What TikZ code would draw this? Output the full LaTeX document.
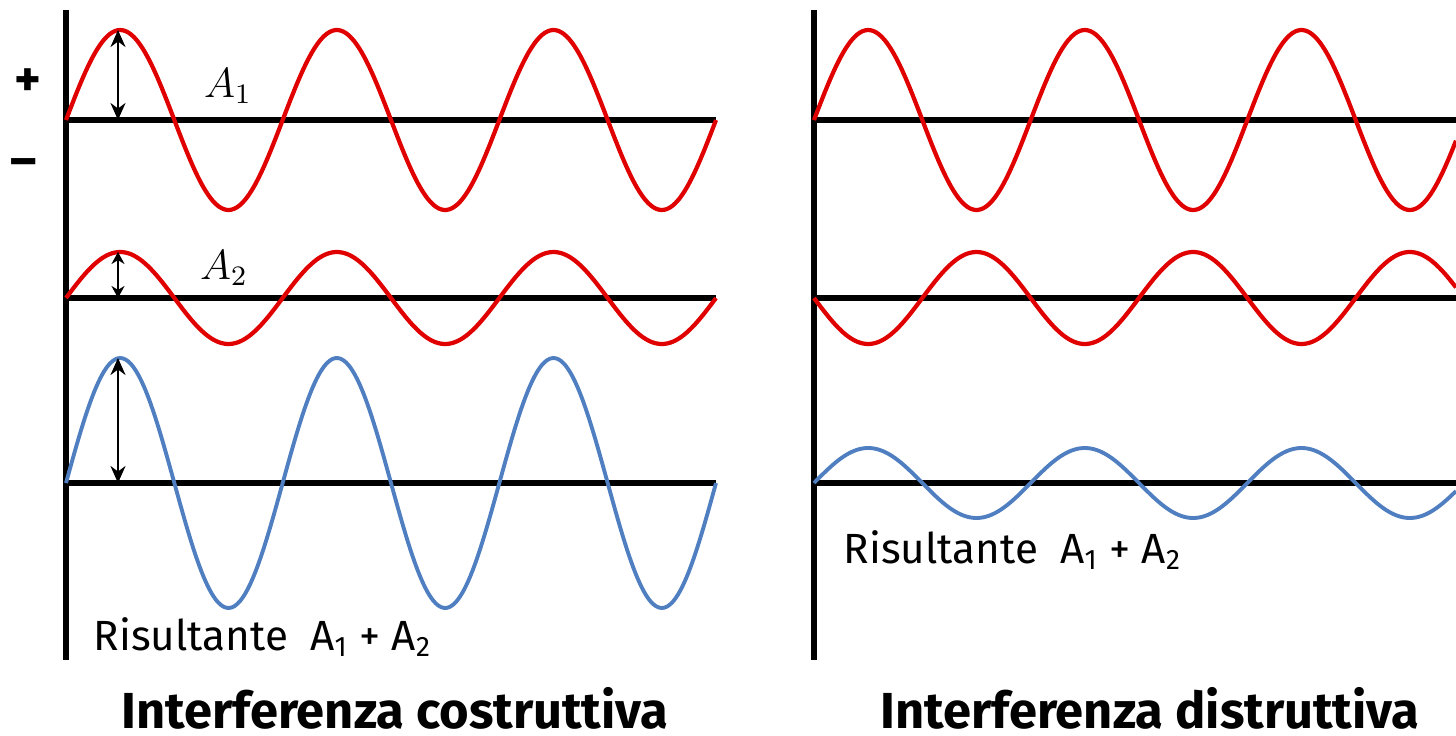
\documentclass[tikz,border=0pt]{standalone}
\usepackage{fontspec}
\setsansfont{Fira Sans}
\usepackage{tikz}
\usetikzlibrary{
  arrows.meta,
  positioning
}
\definecolor{wvRed}{HTML}{E00000}
\definecolor{wvBlue}{HTML}{4F7FC0}
\tikzset{
  axisline/.style={line width=1.5pt, black},
  wavered/.style={line width=1.2pt, wvRed, line join=round},
  waveblue/.style={line width=1.1pt, wvBlue, line join=round},
  amparrow/.style={{Stealth[length=1.7mm,width=1.5mm]}-{Stealth[length=1.7mm,width=1.5mm]}, line width=0.7pt},
  smallarrow/.style={{Stealth[length=1.2mm,width=1.3mm]}-{Stealth[length=1.2mm,width=1.3mm]}, line width=0.7pt},
  amplabel/.style={font=\large, inner sep=0pt},
  reslabel/.style={font=\sffamily\large, anchor=base west, inner sep=0pt},
  paneltitle/.style={font=\sffamily\bfseries\Large, anchor=base, inner sep=0pt},
  signlabel/.style={font=\sffamily\bfseries\Large, inner sep=0pt}
}

\begin{document}
\begin{tikzpicture}[x=0.01cm, y=-0.01cm]
  \useasboundingbox (0,0) rectangle (1456,736);

  % costruttiva
  \draw[axisline] (66,10) -- (66,660);
  \draw[axisline] (66,120) -- (716,120);
  \draw[axisline] (66,298) -- (716,298);
  \draw[axisline] (66,483) -- (716,483);
  \draw[wavered] plot[domain=0:650, samples=240, smooth] ({66+\x},{120-90*sin(\x/216.67*360)});
  \draw[wavered] plot[domain=0:650, samples=240, smooth] ({66+\x},{298-46*sin(\x/216.67*360)});
  \draw[waveblue] plot[domain=0:650, samples=240, smooth] ({66+\x},{483-125*sin(\x/216.67*360)});

  \coordinate (a1top) at (118,30);
  \coordinate (a1bot) at (118,120);
  \coordinate (a2top) at (118,252);
  \coordinate (a2bot) at (118,298);
  \coordinate (rstop) at (118,358);
  \coordinate (rsbot) at (118,483);
  \draw[amparrow] (a1top) -- (a1bot);
  \draw[smallarrow] (a2top) -- (a2bot);
  \draw[amparrow] (rstop) -- (rsbot);

  \node[signlabel] (plus) at (28,83) {+};
  \node[signlabel] (minus) at (24,168) {\textendash};
  \node[amplabel] (lblA1) at (228,86) {$A_1$};
  \node[amplabel] (lblA2) at (224,268) {$A_2$};
  \node[reslabel] (resC) at (93,650) {Risultante \ A\textsubscript{1} + A\textsubscript{2}};
  \node[paneltitle] (titC) at (395,728) {Interferenza costruttiva};

  % distruttiva
  \draw[axisline] (814,10) -- (814,660);
  \draw[axisline] (814,120) -- (1456,120);
  \draw[axisline] (814,298) -- (1456,298);
  \draw[axisline] (814,483) -- (1456,483);
  \draw[wavered] plot[domain=0:642, samples=240, smooth] ({814+\x},{120-90*sin(\x/216.67*360)});
  \draw[wavered] plot[domain=0:642, samples=240, smooth] ({814+\x},{298+46*sin(\x/216.67*360)});
  \draw[waveblue] plot[domain=0:642, samples=240, smooth] ({814+\x},{483-35*sin(\x/216.67*360)});

  \node[reslabel] (resD) at (843,563) {Risultante \ A\textsubscript{1} + A\textsubscript{2}};
  \node[paneltitle] (titD) at (1150,728) {Interferenza distruttiva};
\end{tikzpicture}
\end{document}
